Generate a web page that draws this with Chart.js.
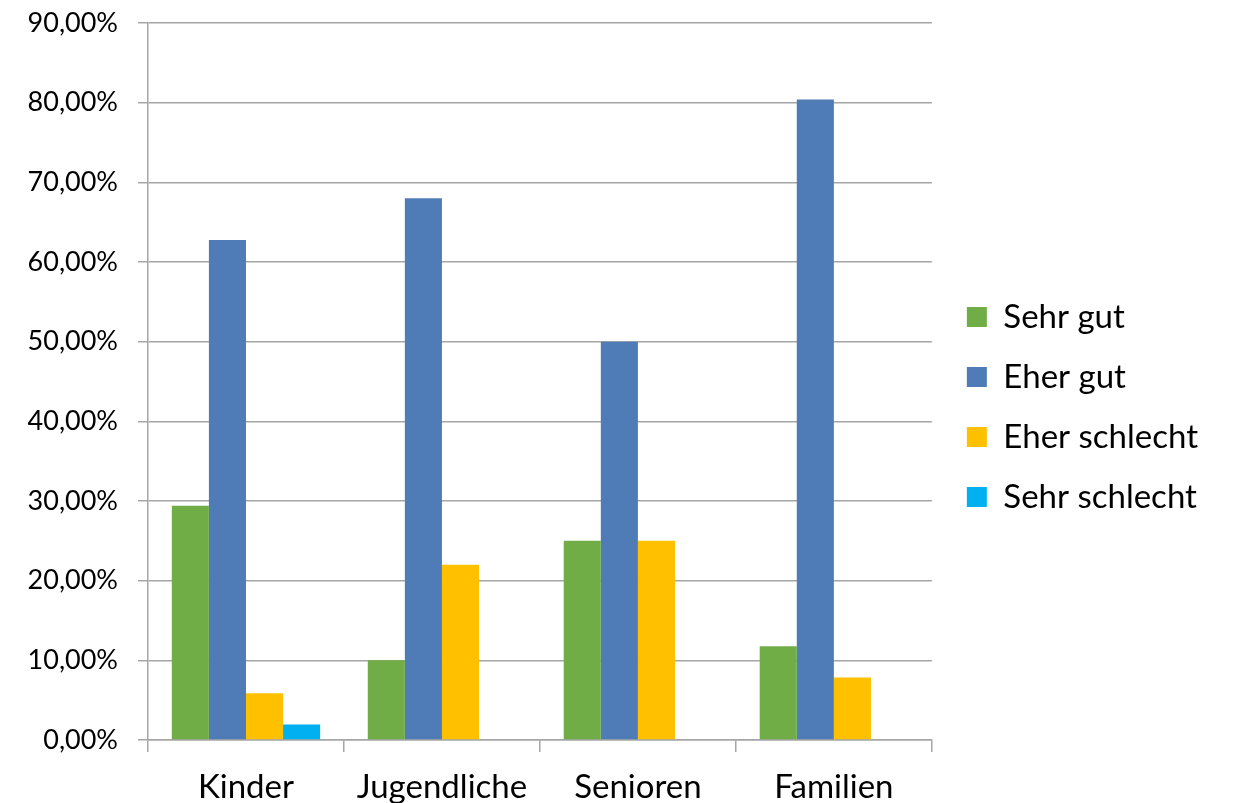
<!DOCTYPE html>
<html>
<head>
<meta charset="utf-8">
<script src="https://cdn.jsdelivr.net/npm/chart.js@4"></script>
<style>
html,body{margin:0;padding:0;background:#fff;}
#wrap{width:1235px;height:803px;position:relative;}
</style>
</head>
<body>
<div id="wrap"><canvas id="c" width="1235" height="803"></canvas></div>
<script>
const categories = ["Kinder", "Jugendliche", "Senioren", "Familien"];
const seriesNames = ["Sehr gut", "Eher gut", "Eher schlecht", "Sehr schlecht"];
const sehrGut = [29.41, 10.00, 25.00, 11.76];
const eherGut = [62.75, 68.00, 50.00, 80.39];
const eherSchlecht = [5.88, 22.00, 25.00, 7.84];
const sehrSchlecht = [1.96, 0, 0, 0];
const yTicks = [0, 10, 20, 30, 40, 50, 60, 70, 80, 90];
const colors = ["#70ad47", "#4f7cb6", "#ffc000", "#00b0f0"];

const FONT = "Lato, 'Open Sans', sans-serif";
const gridColor = "#a6a6a6";

const seriesData = [sehrGut, eherGut, eherSchlecht, sehrSchlecht];

const legendShift = {
  id: 'legendShift',
  afterLayout(chart) {
    if (chart.legend) {
      chart.legend.left += 8;
      chart.legend.right += 8;
      chart.legend.top -= 6;
      chart.legend.bottom -= 6;
    }
  }
};

new Chart(document.getElementById('c'), {
  type: 'bar',
  data: {
    labels: categories,
    datasets: seriesNames.map((n, i) => ({
      label: n,
      data: seriesData[i],
      backgroundColor: colors[i],
      borderWidth: 0,
      categoryPercentage: 0.757,
      barPercentage: 1.0
    }))
  },
  plugins: [legendShift],
  options: {
    responsive: false,
    animation: false,
    devicePixelRatio: 1,
    layout: { padding: { top: 23, right: 35, bottom: 0, left: 0 } },
    plugins: {
      tooltip: { enabled: false },
      legend: {
        position: 'right',
        labels: {
          boxWidth: 20,
          boxHeight: 20,
          padding: 27,
          color: '#000',
          font: { family: FONT, size: 33 }
        }
      }
    },
    scales: {
      x: {
        grid: {
          drawOnChartArea: false,
          drawTicks: true,
          tickLength: 12,
          color: gridColor,
          lineWidth: 1.5
        },
        border: { color: gridColor, width: 1.5 },
        ticks: {
          color: '#000',
          padding: 16,
          font: { family: FONT, size: 33 }
        },
        afterFit: s => { s.height = 63; }
      },
      y: {
        min: 0,
        max: 90,
        afterBuildTicks: s => { s.ticks = yTicks.map(v => ({ value: v })); },
        grid: {
          color: gridColor,
          lineWidth: 1.5,
          tickLength: 10
        },
        border: { color: gridColor, width: 1.5 },
        ticks: {
          color: '#000',
          padding: 20,
          font: { family: FONT, size: 27 },
          callback: v => v.toFixed(2).replace('.', ',') + '%'
        },
        afterFit: s => { s.width = 148; s.paddingTop = 0; s.paddingBottom = 0; }
      }
    }
  }
});
</script>
</body>
</html>
